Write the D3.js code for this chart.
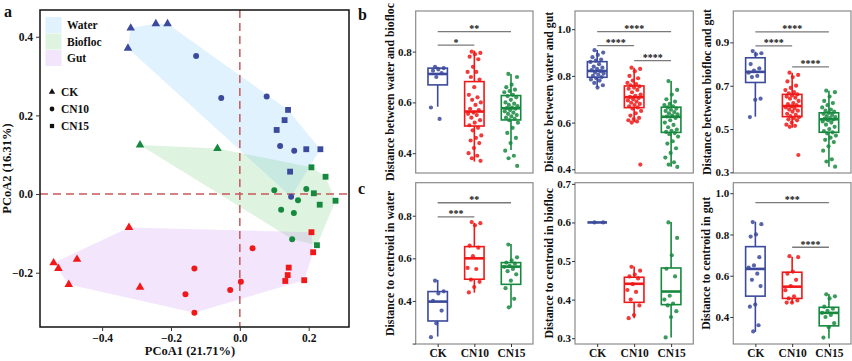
<!DOCTYPE html>
<html>
<head>
<meta charset="utf-8">
<script src="https://cdn.jsdelivr.net/npm/d3@7"></script>
<style>
  body { margin: 0; background: #fff; }
  svg text { font-family: "Liberation Serif", "Times New Roman", serif; font-weight: bold; fill: #111; }
</style>
</head>
<body>
<svg id="canvas" width="852" height="361"></svg>
<script>
/***********************************************************************/
// Data

var cats = ['CK', 'CN10', 'CN15'];
var catColors = ['#3b4a9c', '#f01818', '#17893f'];

// PCoA points: [PCoA1, PCoA2, treatment]
var water_pts = [
  [-0.317, 0.422, 'CK'], [-0.244, 0.433, 'CK'], [-0.210, 0.433, 'CK'], [-0.325, 0.371, 'CK'],
  [-0.127, 0.351, 'CN10'], [-0.054, 0.244, 'CN10'], [0.078, 0.248, 'CN10'], [0.117, 0.122, 'CN10'], [0.158, 0.110, 'CN10'], [0.149, -0.007, 'CN10'],
  [0.140, 0.214, 'CN15'], [0.130, 0.188, 'CN15'], [0.107, 0.163, 'CN15'], [0.193, 0.114, 'CN15'], [0.234, 0.114, 'CN15'], [0.146, 0.057, 'CN15']
];
var biofloc_pts = [
  [-0.290, 0.125, 'CK'], [-0.065, 0.116, 'CK'],
  [0.100, 0.010, 'CN10'], [0.193, 0.013, 'CN10'], [0.120, -0.040, 'CN10'], [0.157, -0.048, 'CN10'], [0.169, -0.016, 'CN10'], [0.152, -0.115, 'CN10'],
  [0.208, 0.068, 'CN15'], [0.249, 0.044, 'CN15'], [0.215, 0.002, 'CN15'], [0.232, -0.027, 'CN15'], [0.278, -0.017, 'CN15'], [0.224, -0.130, 'CN15']
];
var gut_pts = [
  [-0.322, -0.085, 'CK'], [-0.541, -0.175, 'CK'], [-0.527, -0.189, 'CK'], [-0.473, -0.166, 'CK'], [-0.497, -0.230, 'CK'], [-0.290, -0.237, 'CK'],
  [-0.132, -0.189, 'CN10'], [-0.158, -0.255, 'CN10'], [-0.132, -0.302, 'CN10'], [-0.028, -0.244, 'CN10'], [0.003, -0.223, 'CN10'], [0.037, -0.138, 'CN10'],
  [0.208, -0.097, 'CN15'], [0.213, -0.148, 'CN15'], [0.142, -0.187, 'CN15'], [0.139, -0.206, 'CN15'], [0.132, -0.221, 'CN15'], [0.187, -0.219, 'CN15']
];
var groupNames = ['Water', 'Biofloc', 'Gut'];
var pcoaTicksX = [-0.4, -0.2, 0.0, 0.2];
var pcoaTicksY = [-0.2, 0.0, 0.2, 0.4];

// box stats per category: [lower whisker, q1, median, q3, upper whisker]
var b1_box = [[0.583, 0.669, 0.712, 0.735, 0.740], [0.367, 0.507, 0.564, 0.682, 0.804], [0.413, 0.531, 0.577, 0.627, 0.712]];
var b2_box = [[0.751, 0.794, 0.821, 0.861, 0.911], [0.601, 0.664, 0.709, 0.757, 0.835], [0.411, 0.558, 0.625, 0.666, 0.778]];
var b3_box = [[0.557, 0.715, 0.764, 0.829, 0.857], [0.506, 0.557, 0.606, 0.660, 0.760], [0.326, 0.485, 0.545, 0.575, 0.677]];
var c1_box = [[0.233, 0.306, 0.397, 0.444, 0.499], [0.439, 0.502, 0.600, 0.655, 0.767], [0.369, 0.478, 0.561, 0.580, 0.667]];
var c2_box = [[0.600, 0.600, 0.600, 0.600, 0.600], [0.352, 0.393, 0.441, 0.458, 0.486], [0.302, 0.387, 0.421, 0.482, 0.601]];
var c3_box = [[0.328, 0.501, 0.633, 0.741, 0.862], [0.466, 0.490, 0.547, 0.617, 0.692], [0.296, 0.357, 0.420, 0.447, 0.511]];

// individual distances per category
var b1_pts = [
  [0.74, 0.735, 0.73, 0.725, 0.715, 0.70, 0.58, 0.535],
  [0.80, 0.795, 0.79, 0.78, 0.77, 0.74, 0.72, 0.72, 0.70, 0.69, 0.66, 0.63, 0.62, 0.61, 0.60, 0.59, 0.575, 0.57,
   0.56, 0.555, 0.55, 0.54, 0.53, 0.52, 0.51, 0.50, 0.49, 0.47, 0.46, 0.45, 0.44, 0.42, 0.40, 0.39, 0.38, 0.37],
  [0.712, 0.70, 0.67, 0.66, 0.65, 0.645, 0.64, 0.63, 0.625, 0.62, 0.61, 0.60, 0.595, 0.59, 0.585, 0.58, 0.578, 0.575,
   0.57, 0.565, 0.56, 0.555, 0.55, 0.545, 0.54, 0.535, 0.53, 0.52, 0.50, 0.48, 0.46, 0.44, 0.41, 0.39, 0.38, 0.35]
];
var b2_pts = [
  [0.91, 0.90, 0.89, 0.88, 0.87, 0.865, 0.86, 0.85, 0.84, 0.835, 0.83, 0.825, 0.82, 0.815, 0.81, 0.805, 0.80, 0.795,
   0.79, 0.785, 0.78, 0.77, 0.76, 0.75],
  [0.835, 0.83, 0.82, 0.80, 0.79, 0.78, 0.77, 0.765, 0.76, 0.755, 0.75, 0.745, 0.74, 0.73, 0.72, 0.715, 0.71, 0.705,
   0.70, 0.695, 0.69, 0.685, 0.68, 0.675, 0.67, 0.665, 0.66, 0.65, 0.64, 0.63, 0.62, 0.615, 0.61, 0.605, 0.60, 0.42],
  [0.778, 0.74, 0.72, 0.70, 0.69, 0.68, 0.675, 0.67, 0.665, 0.66, 0.655, 0.65, 0.645, 0.64, 0.635, 0.63, 0.626, 0.62,
   0.61, 0.60, 0.59, 0.58, 0.57, 0.565, 0.56, 0.555, 0.55, 0.54, 0.52, 0.51, 0.49, 0.47, 0.45, 0.43, 0.42, 0.41]
];
var b3_pts = [
  [0.86, 0.85, 0.845, 0.80, 0.78, 0.77, 0.76, 0.745, 0.74, 0.64, 0.635, 0.555],
  [0.76, 0.75, 0.74, 0.72, 0.70, 0.69, 0.68, 0.67, 0.665, 0.66, 0.655, 0.65, 0.645, 0.64, 0.63, 0.62, 0.615, 0.61,
   0.605, 0.60, 0.595, 0.59, 0.585, 0.58, 0.57, 0.565, 0.56, 0.555, 0.55, 0.545, 0.54, 0.53, 0.52, 0.515, 0.51, 0.38],
  [0.677, 0.67, 0.65, 0.63, 0.62, 0.61, 0.60, 0.59, 0.585, 0.58, 0.575, 0.57, 0.565, 0.56, 0.555, 0.55, 0.548, 0.545,
   0.54, 0.535, 0.53, 0.52, 0.51, 0.50, 0.49, 0.485, 0.48, 0.47, 0.46, 0.45, 0.44, 0.42, 0.40, 0.36, 0.35, 0.326]
];
var c1_pts = [
  [0.495, 0.445, 0.435, 0.40, 0.355, 0.295, 0.23],
  [0.77, 0.765, 0.755, 0.66, 0.65, 0.61, 0.555, 0.55, 0.50, 0.49, 0.465, 0.44],
  [0.665, 0.605, 0.59, 0.58, 0.575, 0.565, 0.56, 0.55, 0.54, 0.525, 0.495, 0.46, 0.41, 0.37]
];
var c2_pts = [
  [0.60, 0.60],
  [0.485, 0.475, 0.465, 0.46, 0.455, 0.44, 0.425, 0.42, 0.40, 0.385, 0.36, 0.352],
  [0.60, 0.56, 0.515, 0.48, 0.46, 0.41, 0.40, 0.39, 0.385, 0.37, 0.355, 0.302]
];
var c3_pts = [
  [0.86, 0.85, 0.80, 0.79, 0.69, 0.65, 0.64, 0.61, 0.58, 0.55, 0.46, 0.45, 0.36, 0.33],
  [0.695, 0.69, 0.62, 0.61, 0.58, 0.55, 0.53, 0.50, 0.49, 0.48, 0.47, 0.47],
  [0.51, 0.50, 0.49, 0.45, 0.44, 0.43, 0.42, 0.41, 0.40, 0.37, 0.35, 0.30]
];

// significance brackets: [from, to, label, y]
var b1_sig = [['CK', 'CN15', '**', 0.879], ['CK', 'CN10', '*', 0.826]];
var b2_sig = [['CK', 'CN15', '****', 0.990], ['CK', 'CN10', '****', 0.930], ['CN10', 'CN15', '****', 0.865]];
var b3_sig = [['CK', 'CN15', '****', 0.949], ['CK', 'CN10', '****', 0.884], ['CN10', 'CN15', '****', 0.787]];
var c1_sig = [['CK', 'CN15', '**', 0.861], ['CK', 'CN10', '***', 0.795]];
var c2_sig = [];
var c3_sig = [['CK', 'CN15', '***', 0.954], ['CN10', 'CN15', '****', 0.738]];

/***********************************************************************/
// Panel a : PCoA

var svg = d3.select('#canvas');

var A = { left: 40, right: 349, top: 10, bottom: 327 };
var ax = d3.scaleLinear().domain([-0.5805, 0.3171]).range([A.left, A.right]);
var ay = d3.scaleLinear().domain([-0.338, 0.468]).range([A.bottom, A.top]);

var hullFill = ['rgba(135,206,250,0.26)', 'rgba(110,200,120,0.22)', 'rgba(200,140,240,0.22)'];
var ptColor = ['#3b4a9c', '#17893f', '#f01818'];
var symbolOf = { CK: d3.symbolTriangle, CN10: d3.symbolCircle, CN15: d3.symbolSquare };
var symbolSize = { CK: 32, CN10: 28, CN15: 34 };

var pa = svg.append('g');
var allGroups = [water_pts, biofloc_pts, gut_pts];

allGroups.forEach((pts, gi) => {
  var hull = d3.polygonHull(pts.map(p => [ax(p[0]), ay(p[1])]));
  pa.append('path').attr('d', 'M' + hull.join('L') + 'Z').attr('fill', hullFill[gi]).attr('stroke', 'none');
});

// zero lines
pa.append('line').attr('x1', ax(0)).attr('x2', ax(0)).attr('y1', A.top).attr('y2', A.bottom)
  .attr('stroke', '#c65a5a').attr('stroke-width', 1.5).attr('stroke-dasharray', '8,5');
pa.append('line').attr('x1', A.left).attr('x2', A.right).attr('y1', ay(0)).attr('y2', ay(0))
  .attr('stroke', '#c65a5a').attr('stroke-width', 1.5).attr('stroke-dasharray', '8,5');

allGroups.forEach((pts, gi) => {
  pa.selectAll(null).data(pts).enter().append('path')
    .attr('transform', d => 'translate(' + ax(d[0]) + ',' + ay(d[1]) + ')')
    .attr('d', d => d3.symbol().type(symbolOf[d[2]]).size(symbolSize[d[2]])())
    .attr('fill', ptColor[gi]);
});

pa.append('rect').attr('x', A.left).attr('y', A.top).attr('width', A.right - A.left).attr('height', A.bottom - A.top)
  .attr('fill', 'none').attr('stroke', '#111').attr('stroke-width', 1.5);

var fmt = d3.format('.1f');
var axB = pa.append('g').attr('transform', 'translate(0,' + A.bottom + ')')
  .call(d3.axisBottom(ax).tickValues(pcoaTicksX).tickSize(4).tickFormat(fmt));
var axL = pa.append('g').attr('transform', 'translate(' + A.left + ',0)')
  .call(d3.axisLeft(ay).tickValues(pcoaTicksY).tickSize(4).tickFormat(fmt));
[axB, axL].forEach(g => {
  g.select('.domain').remove();
  g.selectAll('.tick line').attr('stroke', '#333');
  g.selectAll('.tick text').style('font-size', '11.5px').attr('fill', '#222');
});

pa.append('text').attr('x', 190).attr('y', 355).attr('text-anchor', 'middle').style('font-size', '12.5px').text('PCoA1 (21.71%)');
pa.append('text').attr('transform', 'translate(11,' + ((A.top + A.bottom) / 2) + ') rotate(-90)')
  .attr('text-anchor', 'middle').style('font-size', '12.5px').text('PCoA2 (16.31%)');
pa.append('text').attr('x', 4).attr('y', 17).style('font-size', '16px').text('a');

// legend: fills
groupNames.forEach((name, i) => {
  pa.append('rect').attr('x', 45.5).attr('y', 17 + i * 16.5).attr('width', 16).attr('height', 16).attr('fill', hullFill[i]);
  pa.append('text').attr('x', 67).attr('y', 29 + i * 16.5).style('font-size', '11.5px').text(name);
});
// legend: shapes
cats.forEach((c, i) => {
  pa.append('path').attr('transform', 'translate(52,' + (92 + i * 17) + ')')
    .attr('d', d3.symbol().type(symbolOf[c]).size(18)()).attr('fill', '#111');
  pa.append('text').attr('x', 61).attr('y', 96 + i * 17).style('font-size', '11.5px').text(c);
});

/***********************************************************************/
// Panels b, c : box plots

var panels = [
  { x0: 415.7, x1: 533,   y0: 11,    y1: 173, dom: [0.322, 0.960], ticks: [0.4, 0.6, 0.8],      title: 'Distance between water and biofloc', box: b1_box, pts: b1_pts, sig: b1_sig, tx: 394 },
  { x0: 575,   x1: 693.3, y0: 11,    y1: 173, dom: [0.384, 1.078], ticks: [0.4, 0.6, 0.8, 1.0], title: 'Distance between water and gut',     box: b2_box, pts: b2_pts, sig: b2_sig, tx: 553 },
  { x0: 733.3, x1: 851,   y0: 11,    y1: 173, dom: [0.297, 1.045], ticks: [0.3, 0.5, 0.7, 0.9], title: 'Distance between biofloc and gut',   box: b3_box, pts: b3_pts, sig: b3_sig, tx: 710.5 },
  { x0: 415.7, x1: 533,   y0: 182.7, y1: 344, dom: [0.198, 0.955], ticks: [0.2, 0.4, 0.6, 0.8], title: 'Distance to centroid in water',      box: c1_box, pts: c1_pts, sig: c1_sig, tx: 393.5, hide: [0.2], xlab: true },
  { x0: 575,   x1: 693.3, y0: 182.7, y1: 344, dom: [0.285, 0.703], ticks: [0.3, 0.4, 0.5, 0.6, 0.7], title: 'Distance to centroid in biofloc', box: c2_box, pts: c2_pts, sig: c2_sig, tx: 553, xlab: true },
  { x0: 733.3, x1: 851,   y0: 182.7, y1: 344, dom: [0.269, 1.051], ticks: [0.4, 0.6, 0.8, 1.0], title: 'Distance to centroid in gut',        box: c3_box, pts: c3_pts, sig: c3_sig, tx: 710, xlab: true }
];

function jitter(i){ return (((i * 0.6180339887 + 0.31) % 1) - 0.5) * 14; }

panels.forEach(p => {
  var g = svg.append('g');
  var x = d3.scalePoint().domain(cats).range([p.x0, p.x1]).padding(0.6);
  var y = d3.scaleLinear().domain(p.dom).range([p.y1, p.y0]);
  var bw = x.step() * 0.53;

  p.box.forEach((s, ci) => {
    var cx = x(cats[ci]), col = catColors[ci];
    g.append('line').attr('x1', cx).attr('x2', cx).attr('y1', y(s[0])).attr('y2', y(s[4]))
      .attr('stroke', col).attr('stroke-width', 1.6);
    if (s[1] !== s[3]) {
      g.append('rect').attr('x', cx - bw / 2).attr('y', y(s[3])).attr('width', bw).attr('height', y(s[1]) - y(s[3]))
        .attr('fill', '#fff').attr('stroke', col).attr('stroke-width', 1.6);
    }
    g.append('line').attr('x1', cx - bw / 2).attr('x2', cx + bw / 2).attr('y1', y(s[2])).attr('y2', y(s[2]))
      .attr('stroke', col).attr('stroke-width', 2.6);
  });

  p.pts.forEach((vals, ci) => {
    g.selectAll(null).data(vals).enter().append('circle')
      .attr('cx', (d, i) => x(cats[ci]) + jitter(i))
      .attr('cy', d => y(d))
      .attr('r', 2.1)
      .attr('fill', catColors[ci])
      .attr('opacity', 0.85);
  });

  p.sig.forEach(s => {
    g.append('line').attr('x1', x(s[0])).attr('x2', x(s[1])).attr('y1', y(s[3])).attr('y2', y(s[3]))
      .attr('stroke', '#7a7a7a').attr('stroke-width', 1.3);
    g.append('text').attr('x', (x(s[0]) + x(s[1])) / 2).attr('y', y(s[3]) + 0.5)
      .attr('text-anchor', 'middle').style('font-size', '10px').text(s[2]);
  });

  g.append('rect').attr('x', p.x0).attr('y', p.y0).attr('width', p.x1 - p.x0).attr('height', p.y1 - p.y0)
    .attr('fill', 'none').attr('stroke', '#8a8a8a').attr('stroke-width', 1.2);

  var yl = g.append('g').attr('transform', 'translate(' + p.x0 + ',0)')
    .call(d3.axisLeft(y).tickValues(p.ticks).tickSize(3).tickFormat(d => (p.hide && p.hide.indexOf(d) >= 0) ? '' : fmt(d)));
  yl.select('.domain').remove();
  yl.selectAll('.tick line').attr('stroke', '#333');
  yl.selectAll('.tick text').style('font-size', '11px').attr('fill', '#222').attr('x', -4);

  if (p.xlab) {
    var xl = g.append('g').attr('transform', 'translate(0,' + p.y1 + ')')
      .call(d3.axisBottom(x).tickSize(3));
    xl.select('.domain').remove();
    xl.selectAll('.tick line').attr('stroke', '#333');
    xl.selectAll('.tick text').style('font-size', '11.5px').attr('fill', '#222').attr('y', 4.5);
  }

  g.append('text').attr('transform', 'translate(' + p.tx + ',' + ((p.y0 + p.y1) / 2) + ') rotate(-90)')
    .attr('text-anchor', 'middle').style('font-size', '11.8px').text(p.title);
});

svg.append('text').attr('x', 358).attr('y', 20).style('font-size', '16px').text('b');
svg.append('text').attr('x', 358).attr('y', 194).style('font-size', '16px').text('c');
</script>
</body>
</html>
